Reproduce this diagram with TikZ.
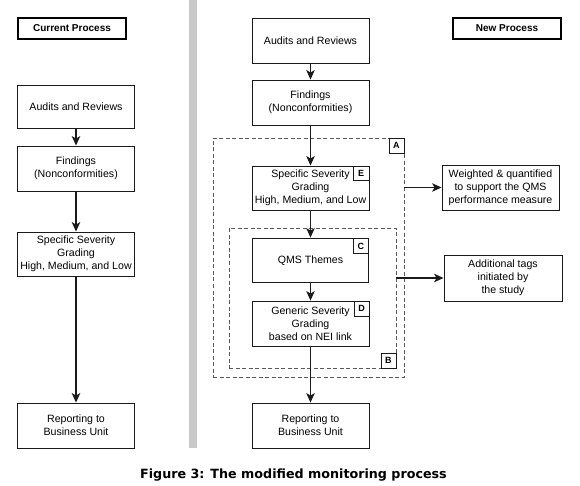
\documentclass[tikz,border=0pt]{standalone}
\usepackage{fontspec}
\setmainfont{Liberation Sans}
\newfontfamily\capfont{DejaVu Sans}
\usetikzlibrary{arrows.meta}
\definecolor{ink}{HTML}{1A1A1A}
\definecolor{barg}{HTML}{C8C8C8}
\tikzset{
  procbox/.style={draw=ink, line width=0.9pt, fill=white, inner sep=0pt, align=center,
    minimum width=117pt, minimum height=45pt, font=\fontsize{10.6}{13}\selectfont, text=black},
  titlebox/.style={draw=black, line width=2.6pt, fill=white, inner sep=0pt,
    minimum width=108pt, minimum height=21pt, font=\fontsize{10}{12}\selectfont\bfseries},
  tagbox/.style={draw=ink, line width=0.9pt, fill=white, inner sep=0pt,
    minimum width=15pt, minimum height=15pt, font=\fontsize{9}{10}\selectfont\bfseries},
  groupbox/.style={draw=black!65, line width=0.8pt, dash pattern=on 4pt off 2.5pt},
  flow/.style={draw=ink, line width=1.1pt, -{Stealth[length=9.5pt,width=8.5pt,inset=2.5pt]}},
}
\begin{document}
\begin{tikzpicture}[x=1pt,y=-1pt]
\path[use as bounding box] (0,0) rectangle (580,486);
% separator bar
\fill[barg] (189,0) rectangle (197,448);

% left column
\node[titlebox] (cp) at (72,28.5) {Current Process};
\node[procbox, minimum height=43pt] (la) at (76,106.5) {Audits and Reviews};
\node[procbox] (lf) at (76,168.5) {Findings\\(Nonconformities)};
\node[procbox, minimum height=44pt] (ls) at (76,254) {Specific Severity\\Grading\\High, Medium, and Low};
\node[procbox] (lr) at (76,425.5) {Reporting to\\Business Unit};
\draw[flow] (la) -- (lf);
\draw[flow] (lf) -- (ls);
\draw[flow] (ls) -- (lr);

% right column
\node[titlebox] (np) at (507,28.5) {New Process};
\node[procbox] (ra) at (310.5,40.5) {Audits and Reviews};
\node[procbox] (rf) at (310.5,102.5) {Findings\\(Nonconformities)};

\node[groupbox, minimum width=191pt, minimum height=239pt, inner sep=0pt] (A) at (308.5,257.5) {};
\node[groupbox, minimum width=167pt, minimum height=140pt, inner sep=0pt] (B) at (312.5,298) {};
\node[tagbox, anchor=north east] (Alab) at (A.north east) {A};
\node[tagbox, anchor=south east] (Blab) at (B.south east) {B};

\node[procbox, minimum height=44pt] (rs) at (310.5,188) {Specific Severity\\Grading\\High, Medium, and Low};
\node[tagbox, minimum width=16pt, minimum height=14pt, anchor=north east] (Elab) at (rs.north east) {E};
\node[procbox, line width=1.8pt, minimum width=116pt, minimum height=44pt] (rq) at (310.5,260.5) {QMS Themes};
\node[tagbox, anchor=north east] (Clab) at ([xshift=-0.5pt,yshift=-0.5pt]rq.north east) {C};
\node[procbox] (rg) at (310.5,323.5) {Generic Severity\\Grading\\based on NEI link};
\node[tagbox, anchor=north east] (Dlab) at (rg.north east) {D};
\node[procbox] (rr) at (310.5,425.5) {Reporting to\\Business Unit};

\draw[flow] (ra) -- (rf);
\draw[flow] (rf) -- (rs);
\draw[flow] (rs) -- (rq);
\draw[flow] (rq) -- (rg);
\draw[flow] (rg) -- (rr);

\node[procbox] (w) at (500.5,187.5) {Weighted \& quantified\\to support the QMS\\performance measure};
\node[procbox, minimum width=118pt, minimum height=46pt] (t) at (503,278) {Additional tags\\initiated by\\the study};
\draw[flow] (A.east |- w.west) -- (w.west);
\draw[flow] (B.east |- t.west) -- (t.west);

% caption
\node[font=\capfont\bfseries\fontsize{12.7}{14}\selectfont, inner sep=0pt] (cap) at (293.5,475) {Figure 3: The modified monitoring process};
\end{tikzpicture}
\end{document}
